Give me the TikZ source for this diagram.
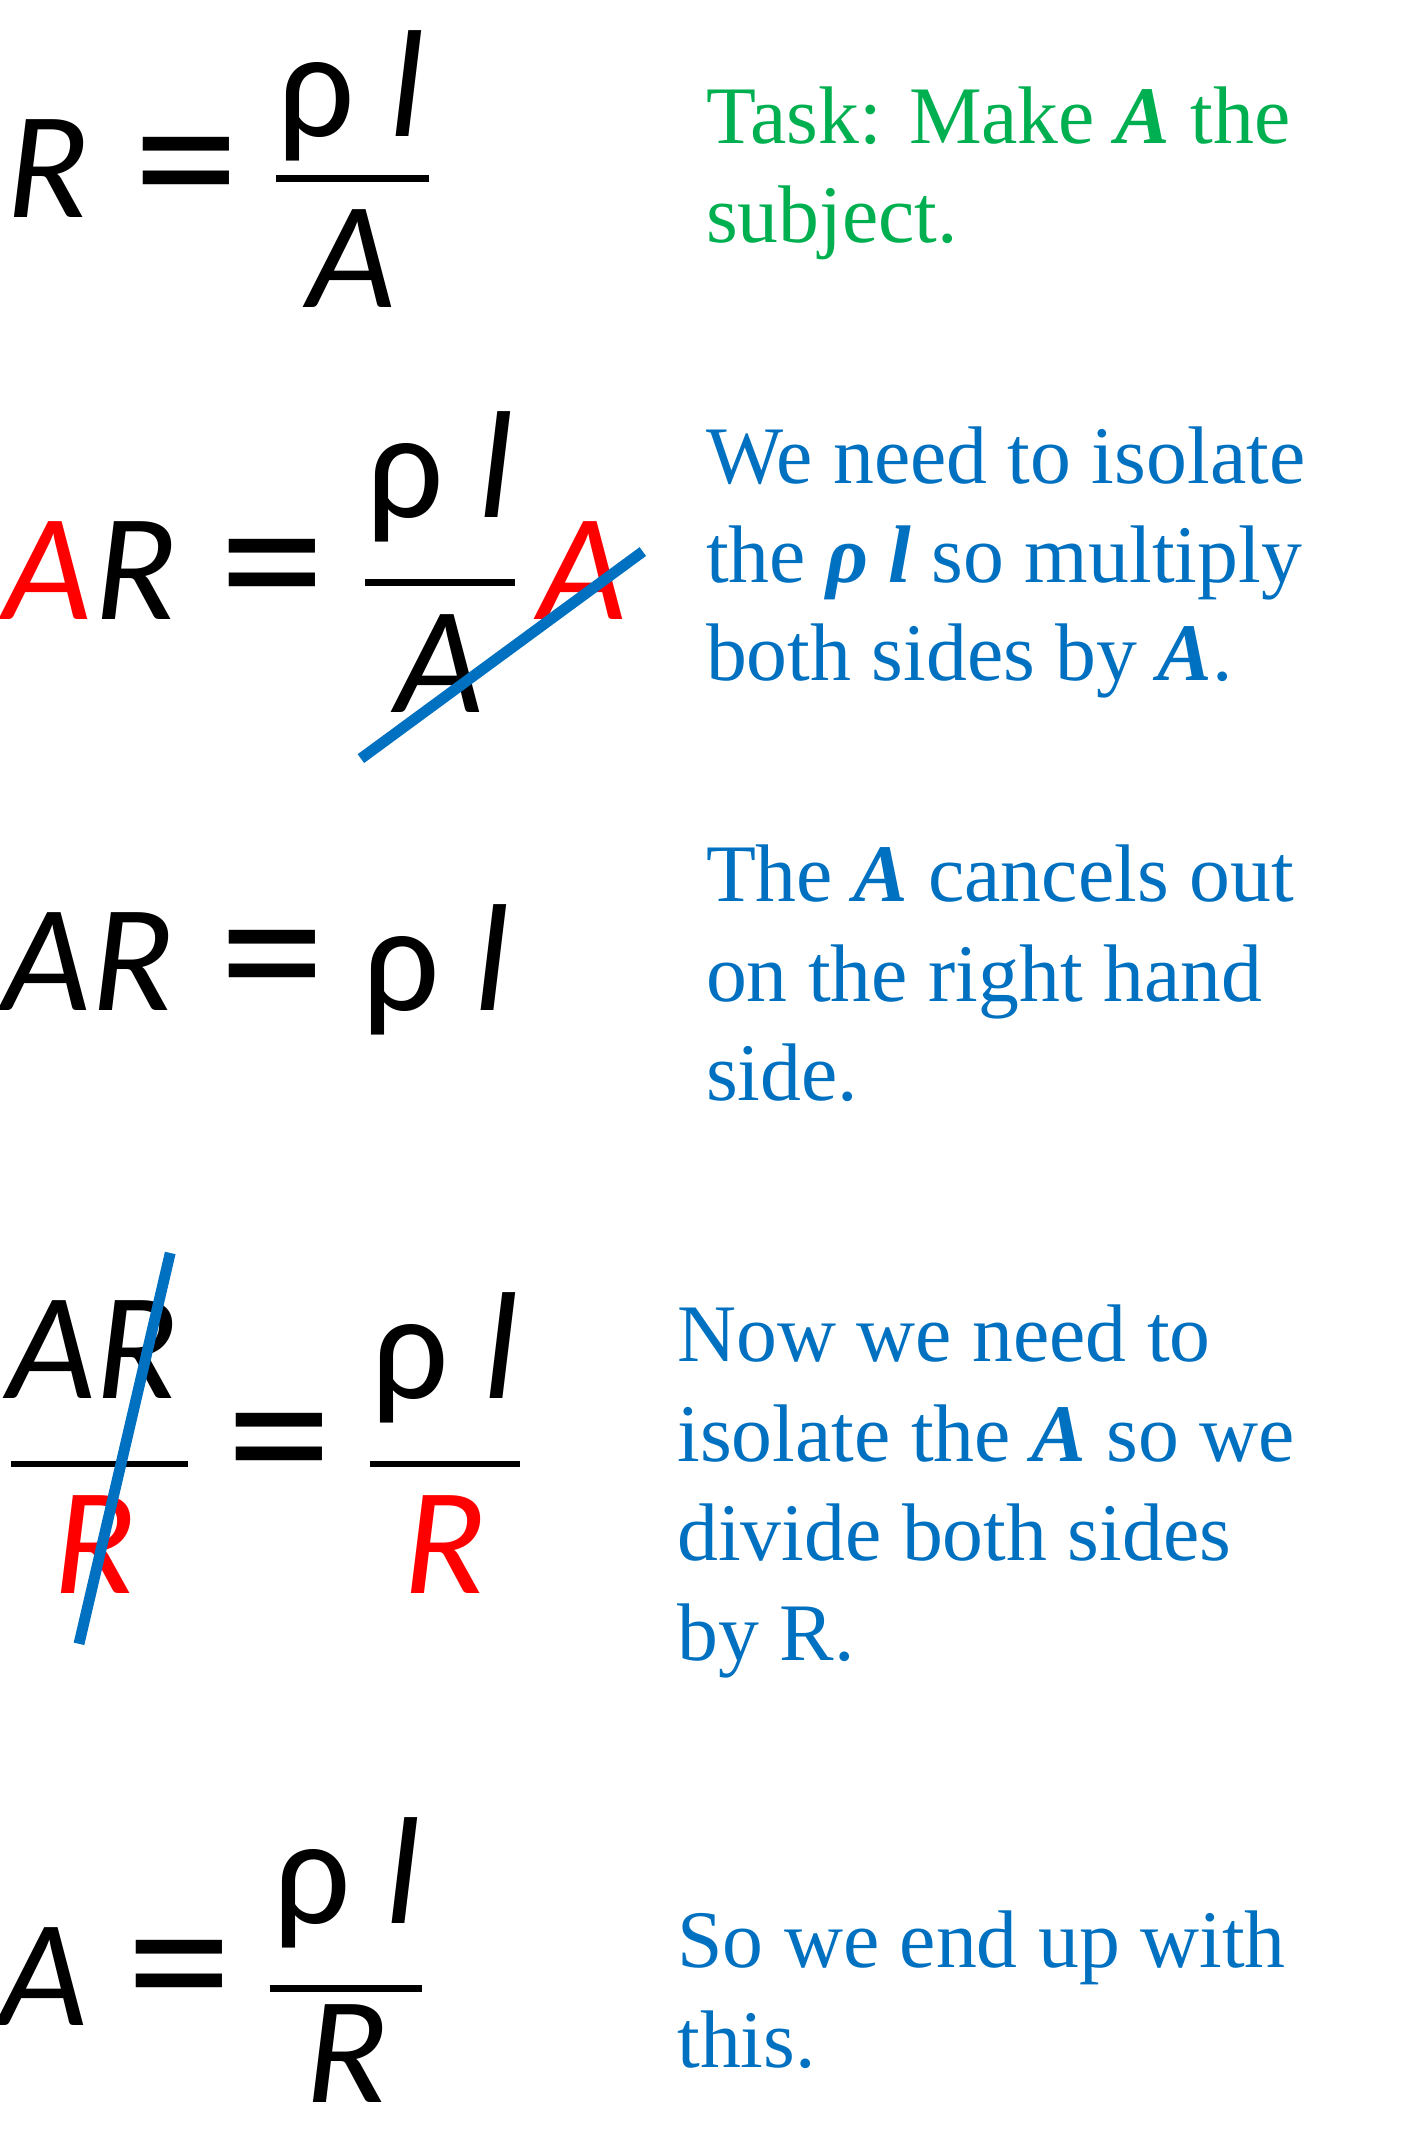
\documentclass[tikz,border=0pt]{standalone}
\usepackage{fontspec}
\setmainfont{Liberation Serif}
\newfontfamily\mf{Carlito}
\begin{document}
\begin{tikzpicture}[x=0.5pt,y=-0.5pt,
  m/.style={font=\mf\fontsize{56}{60}\selectfont\itshape,inner sep=0pt,anchor=base},
  eq/.style={font=\mf\fontsize{78}{80}\selectfont,inner sep=0pt,anchor=base},
  tx/.style={font=\fontsize{30}{36.5}\selectfont,anchor=base west,inner sep=0pt},
  bar/.style={line width=2.5pt},
  cross/.style={line width=4pt,color=myblue}]
\definecolor{mygreen}{RGB}{0,176,80}
\definecolor{myblue}{RGB}{0,112,192}
\definecolor{myred}{RGB}{255,0,0}
\useasboundingbox (0,0) rectangle (1040,1564);
% Eq 1
\node[m] (r1) at (35,160) {R};
\node[eq] (e1) at (137,168) {=};
\draw[bar] (203,131) coordinate (b1a) -- (315,131) coordinate (b1b);
\node[m] (n1) at (258,100) {{\upshape ρ} l};
\node[m] (d1) at (258,226) {A};
\node[tx,text=mygreen] (t1) at (518,105) {Task: Make \textbf{\textit{A}} the};
\node[tx,text=mygreen] (t1b) at (518,178) {subject.};
% Eq 2
\node[m,text=myred] (a2) at (35,455) {A};
\node[m] (r2) at (100,455) {R};
\node[eq] (e2) at (200,463) {=};
\draw[bar] (268,428) -- (378,428);
\node[m] (n2) at (323,380) {{\upshape ρ} l};
\node[m] (d2) at (323,523) {A};
\node[m,text=myred] (a2b) at (428,455) {A};
\coordinate (c2a) at (265,557); \coordinate (c2b) at (472,405);
\draw[cross] (c2a) -- (c2b);
\node[tx,text=myblue] at (518,355) {We need to isolate};
\node[tx,text=myblue] at (518,428) {the \textbf{\textit{ρ l}} so multiply};
\node[tx,text=myblue] at (518,500) {both sides by \textbf{\textit{A}}.};
% Eq 3
\node[m] (ar3) at (65,742) {AR};
\node[eq] (e3) at (200,750) {=};
\node[m] (rl3) at (320,742) {{\upshape ρ} l};
\node[tx,text=myblue] at (518,662) {The \textbf{\textit{A}} cancels out};
\node[tx,text=myblue] at (518,735) {on the right hand};
\node[tx,text=myblue] at (518,808) {side.};
% Eq 4
\node[m] (ar4) at (68,1027) {AR};
\draw[bar] (8,1075) -- (138,1075);
\node[m,text=myred] (r4) at (70,1170) {R};
\node[eq] (e4) at (205,1105) {=};
\draw[bar] (272,1075) -- (382,1075);
\node[m] (n4) at (327,1027) {{\upshape ρ} l};
\node[m,text=myred] (r4b) at (327,1170) {R};
\coordinate (c4a) at (125,920); \coordinate (c4b) at (58,1207);
\draw[cross] (c4a) -- (c4b);
\node[tx,text=myblue] at (497,1000) {Now we need to};
\node[tx,text=myblue] at (497,1073) {isolate the \textbf{\textit{A}} so we};
\node[tx,text=myblue] at (497,1146) {divide both sides};
\node[tx,text=myblue] at (497,1219) {by R.};
% Eq 5
\node[m] (a5) at (32,1487) {A};
\node[eq] (e5) at (132,1492) {=};
\draw[bar] (198,1460) -- (310,1460);
\node[m] (n5) at (255,1412) {{\upshape ρ} l};
\node[m] (d5) at (255,1544) {R};
\node[tx,text=myblue] at (497,1445) {So we end up with};
\node[tx,text=myblue] at (497,1518) {this.};
\end{tikzpicture}
\end{document}
